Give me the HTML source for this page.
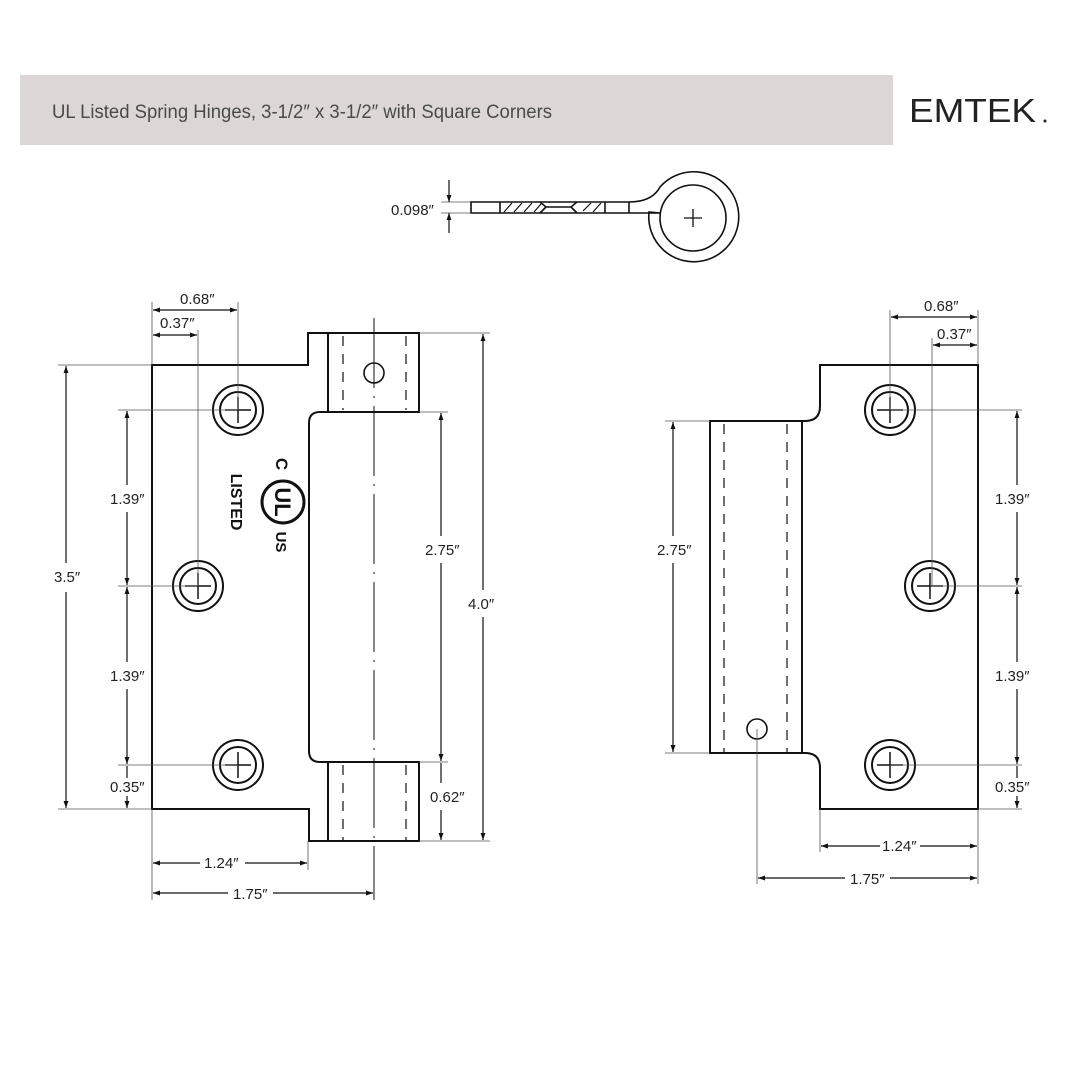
<!DOCTYPE html>
<html><head><meta charset="utf-8"><style>
html,body{margin:0;padding:0;background:#fff;}
svg{display:block;}
text{font-family:"Liberation Sans",sans-serif;fill:#222;}
</style></head><body>
<svg width="1080" height="1080" viewBox="0 0 1080 1080" xmlns="http://www.w3.org/2000/svg">
<defs>
<marker id="a" viewBox="0 0 10 10" refX="10" refY="5" markerWidth="9" markerHeight="7" orient="auto-start-reverse" markerUnits="userSpaceOnUse">
<path d="M0,1.5 L10,5 L0,8.5 Z" fill="#111"/></marker>
<g id="screw"><circle r="25" fill="none" stroke="#111" stroke-width="2"/><circle r="18" fill="none" stroke="#111" stroke-width="2"/><path d="M-13,0H13M0,-13V13" stroke="#111" stroke-width="1.5"/></g>
</defs>
<rect x="20" y="75" width="873" height="70" fill="#dcd7d6"/>
<text x="52" y="118" font-size="19" textLength="500" lengthAdjust="spacingAndGlyphs" style="fill:#4a4a4a">UL Listed Spring Hinges, 3-1/2″ x 3-1/2″ with Square Corners</text>
<text x="909" y="122" font-size="33" textLength="127" lengthAdjust="spacingAndGlyphs" style="fill:#222">EMTEK</text>
<circle cx="1045" cy="121" r="1.5" fill="#222"/>

<!-- top section view -->
<g stroke="#111" stroke-width="1.6" fill="none">
<path d="M471,202 H629 Q652,202 660,187 A45,45 0 1 1 649,212 L660,213 H471 Z"/>
<circle cx="693" cy="218" r="33"/>
<path d="M629,202 V213"/>
<path d="M500,202 V213 M605,202 V213"/>
<path d="M540,202 L546,207 H571 L577,202"/>
<path d="M546,207 L540,213 M571,207 L577,213"/>
<path d="M504,212 L512,203 M514,212 L522,203 M524,212 L532,203 M534,212 L541,204 M583,211 L591,203 M593,212 L601,203" stroke-width="1.2"/>
<path d="M684,218 H702 M693,209 V227" stroke-width="1.3"/>
</g>
<g stroke="#555" stroke-width="0.8"><path d="M441,202 H470 M441,213 H470"/></g>
<path d="M449,180 V202" stroke="#111" stroke-width="1.2" marker-end="url(#a)"/>
<path d="M449,233 V213" stroke="#111" stroke-width="1.2" marker-end="url(#a)"/>
<text x="391" y="215" font-size="15">0.098″</text>

<!-- LEFT HINGE -->
<g stroke="#111" stroke-width="2" fill="none">
<path d="M152,365 H308 V333 H419 V412 H320 Q309,412 309,423 V751 Q309,762 320,762 H419 V841 H309 V809 H152 Z"/>
<path d="M328,333 V412 M328,762 V841"/>
<circle cx="374" cy="373" r="10" stroke-width="1.6"/>
</g>
<g stroke="#111" stroke-width="1.2" stroke-dasharray="10,8" fill="none"><path d="M343,336 V410 M406,336 V410 M343,765 V840 M406,765 V840"/></g>
<path d="M374,318 V900" stroke="#111" stroke-width="1" stroke-dasharray="70,8,2,8" fill="none"/>
<use href="#screw" x="238" y="410"/><use href="#screw" x="198" y="586"/><use href="#screw" x="238" y="765"/>
<g transform="translate(283,502) rotate(90)">
<circle r="21" fill="none" stroke="#111" stroke-width="3"/>
<text x="0" y="8" font-size="22" font-weight="bold" text-anchor="middle" style="fill:#111">UL</text>
<text x="-38" y="7" font-size="17" font-weight="bold" text-anchor="middle" style="fill:#111">C</text>
<text x="40" y="7" font-size="15" font-weight="bold" text-anchor="middle" style="fill:#111">US</text>
<text x="0" y="52" font-size="16" font-weight="bold" text-anchor="middle" style="fill:#111">LISTED</text>
</g>
<g stroke="#555" stroke-width="0.8" fill="none">
<path d="M58,365 H152 M58,809 H152 M118,410 H238 M118,586 H198 M118,765 H238"/>
<path d="M152,302 V365 M238,302 V410 M198,330 V586"/>
<path d="M419,333 H490 M419,412 H448 M419,762 H448 M419,841 H490"/>
<path d="M152,809 V900 M308,841 V870"/>
</g>
<g stroke="#111" stroke-width="1.2" fill="none">
<path d="M66,366 V563 M66,592 V808" marker-start="url(#a)" marker-end="url(#a)"/>
<path d="M127,411 V485 M127,512 V585" marker-start="url(#a)" marker-end="url(#a)"/>
<path d="M127,587 V662 M127,689 V764" marker-start="url(#a)" marker-end="url(#a)"/>
<path d="M127,778 V766 M127,796 V808" marker-end="url(#a)"/>
<path d="M153,310 H237" marker-start="url(#a)" marker-end="url(#a)"/>
<path d="M153,335 H197" marker-start="url(#a)" marker-end="url(#a)"/>
<path d="M441,413 V536 M441,563 V761" marker-start="url(#a)" marker-end="url(#a)"/>
<path d="M483,334 V590 M483,617 V840" marker-start="url(#a)" marker-end="url(#a)"/>
<path d="M441,783 V763 M441,810 V840" marker-end="url(#a)"/>
<path d="M153,863 H200 M245,863 H307" marker-start="url(#a)" marker-end="url(#a)"/>
<path d="M153,893 H228 M273,893 H373" marker-start="url(#a)" marker-end="url(#a)"/>
</g>
<g font-size="15">
<text x="180" y="304">0.68″</text>
<text x="160" y="328">0.37″</text>
<text x="54" y="582">3.5″</text>
<text x="110" y="504">1.39″</text>
<text x="110" y="681">1.39″</text>
<text x="110" y="792">0.35″</text>
<text x="425" y="555">2.75″</text>
<text x="468" y="609">4.0″</text>
<text x="430" y="802">0.62″</text>
<text x="204" y="868">1.24″</text>
<text x="233" y="899">1.75″</text>
</g>

<!-- RIGHT HINGE -->
<g stroke="#111" stroke-width="2" fill="none">
<path d="M820,365 H978 V809 H820 V768 Q820,753 805,753 H710 V421 H805 Q820,421 820,406 Z"/>
<path d="M802,421 V753"/>
<circle cx="757" cy="729" r="10" stroke-width="1.6"/>
</g>
<g stroke="#111" stroke-width="1.2" stroke-dasharray="10,8" fill="none"><path d="M724,424 V752 M787,424 V752"/></g>
<use href="#screw" x="890" y="410"/><use href="#screw" x="930" y="586"/><use href="#screw" x="890" y="765"/>
<g stroke="#555" stroke-width="0.8" fill="none">
<path d="M890,310 V410 M932,338 V586 M978,310 V365"/>
<path d="M890,410 H1022 M930,586 H1022 M890,765 H1022 M978,809 H1022"/>
<path d="M665,421 H710 M665,753 H710"/>
<path d="M757,729 V884 M820,809 V852 M978,809 V884"/>
</g>
<g stroke="#111" stroke-width="1.2" fill="none">
<path d="M891,317 H977" marker-start="url(#a)" marker-end="url(#a)"/>
<path d="M933,345 H977" marker-start="url(#a)" marker-end="url(#a)"/>
<path d="M1017,411 V485 M1017,512 V585" marker-start="url(#a)" marker-end="url(#a)"/>
<path d="M1017,587 V662 M1017,689 V764" marker-start="url(#a)" marker-end="url(#a)"/>
<path d="M1017,778 V766 M1017,796 V808" marker-end="url(#a)"/>
<path d="M673,422 V536 M673,563 V752" marker-start="url(#a)" marker-end="url(#a)"/>
<path d="M821,846 H880 M920,846 H977" marker-start="url(#a)" marker-end="url(#a)"/>
<path d="M758,878 H845 M890,878 H977" marker-start="url(#a)" marker-end="url(#a)"/>
</g>
<g font-size="15">
<text x="924" y="311">0.68″</text>
<text x="937" y="339">0.37″</text>
<text x="995" y="504">1.39″</text>
<text x="995" y="681">1.39″</text>
<text x="995" y="792">0.35″</text>
<text x="657" y="555">2.75″</text>
<text x="882" y="851">1.24″</text>
<text x="850" y="884">1.75″</text>
</g>
</svg>
</body></html>
